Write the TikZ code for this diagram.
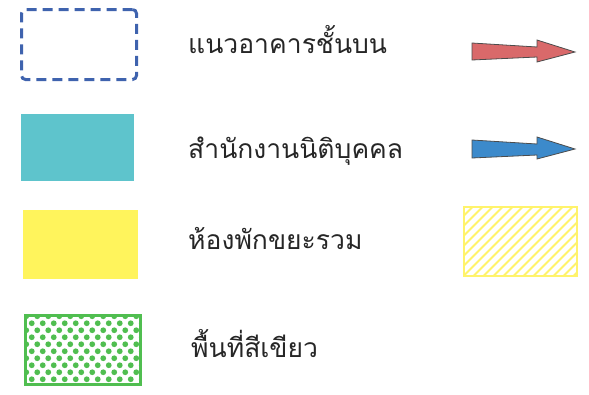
\documentclass[tikz,border=0pt]{standalone}
\usepackage{fontspec}
\newfontfamily\thaifont[Script=Thai]{Loma}
\usetikzlibrary{positioning}
\definecolor{dashblue}{HTML}{3F63AE}
\definecolor{officeteal}{HTML}{5EC4CC}
\definecolor{wasteyellow}{HTML}{FFF45C}
\definecolor{hatchyellow}{HTML}{FFF36B}
\definecolor{gardengreen}{HTML}{50BE50}
\definecolor{arrowred}{HTML}{D9696A}
\definecolor{arrowblue}{HTML}{3C8ACB}

\begin{document}
\begin{tikzpicture}[x=1pt,y=-1pt,
  legbox/.style={rectangle,anchor=north west,inner sep=0pt,
    minimum width=114pt,minimum height=68pt},
  leglbl/.style={anchor=base west,inner sep=0pt,text=black!85,
    font=\thaifont\fontsize{26.5}{30}\selectfont},
  legarrow/.style={draw=black!70,line width=0.8pt,line join=miter}
]
\useasboundingbox (0,0) rectangle (589,394);

% ---- legend boxes (left column)
\node[legbox,draw=dashblue,line width=3pt,dash pattern=on 10pt off 6pt,
  rounded corners=4pt,minimum width=115pt,minimum height=70pt]
  (upper) at (20,8) {};
\node[legbox,fill=officeteal,minimum width=113pt,minimum height=67pt]
  (office) at (21,114) {};
\node[legbox,fill=wasteyellow,minimum width=115pt,minimum height=69pt]
  (waste) at (23,210) {};
\node[legbox,draw=gardengreen,line width=2.5pt,minimum width=115pt,minimum height=69pt,
  path picture={
    \foreach \r in {0,...,10}{
      \pgfmathsetmacro\off{mod(\r,2)*5.5}
      \foreach \c in {0,...,11}{
        \fill[gardengreen] ([shift={(\c*11+\off+1,\r*7+1)}]path picture bounding box.north west)
          circle (2.9pt);
      }}}]
  (green) at (24,314) {};

% ---- labels
\node[leglbl] (lblupper)  at (188,53)  {แนวอาคารชั้นบน};
\node[leglbl] (lbloffice) at (188,158) {สำนักงานนิติบุคคล};
\node[leglbl] (lblwaste)  at (188,249) {ห้องพักขยะรวม};
\node[leglbl] (lblgreen)  at (191,357) {พื้นที่สีเขียว};

% ---- right column: arrows and hatched box
\draw[legarrow,fill=arrowred] (472,43) -- (537,47) -- (537,40) -- (575,52)
  -- (537,62) -- (537,57) -- (472,60) -- cycle;
\draw[legarrow,fill=arrowblue] (472,140) -- (537,144) -- (537,137) -- (575,149)
  -- (537,159) -- (537,155) -- (472,158) -- cycle;
\node[legbox,draw=hatchyellow,line width=1.5pt,minimum width=113pt,minimum height=69pt,
  path picture={
    \foreach \s in {-70,-60,...,120}{
      \draw[hatchyellow,line width=2pt]
        ([shift={(\s,69)}]path picture bounding box.north west)
        -- ++(69,-69);
    }}]
  (hatch) at (463,206) {};
\end{tikzpicture}
\end{document}
